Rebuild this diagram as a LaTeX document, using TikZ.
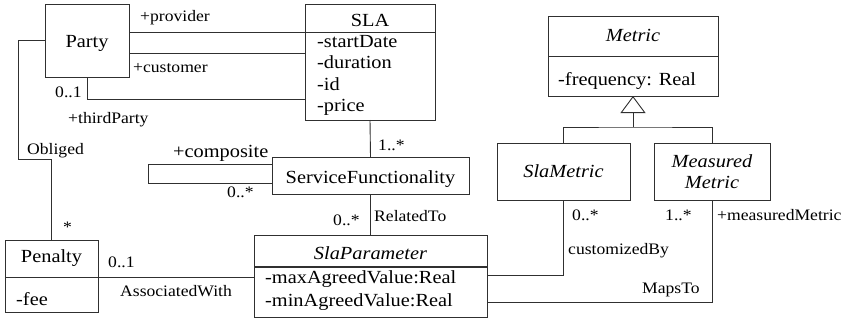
\documentclass[tikz,border=0pt]{standalone}
\usepackage{fontspec}
\setmainfont{Liberation Serif}[FakeStretch=1.1]
\usetikzlibrary{arrows.meta}
\definecolor{linec}{HTML}{303030}
\newcommand\boxfont{\fontsize{18.5}{22}\selectfont}
\newcommand\lblfont{\fontsize{16}{18}\selectfont}
\tikzset{
  cls/.style={draw=linec, line width=0.9pt, inner sep=0pt, outer sep=0pt, anchor=north west},
  wire/.style={draw=linec, line width=0.9pt},
  clsname/.style={font=\boxfont, inner sep=0pt, anchor=base},
  attr/.style={font=\boxfont, inner sep=0pt, anchor=base west},
  lbl/.style={font=\lblfont, inner sep=0pt, anchor=base west},
  gen/.style={wire, -{Triangle[open, length=17pt, width=25pt, line width=0.9pt]}}
}
\begin{document}
\begin{tikzpicture}[x=1pt, y=-1pt]
\useasboundingbox (0,0) rectangle (845,322);

% ---- classes ----
\node[cls, minimum width=84, minimum height=73] (party) at (45,4) {};
\node[clsname] (partyN) at (87,47) {Party};

\node[cls, minimum width=130, minimum height=116] (sla) at (305,4) {};
\draw[wire] (sla.west |- 0,32) -- (sla.east |- 0,32);
\node[clsname] (slaN) at (370,26) {SLA};
\node[attr] (slaA1) at (317,47) {-startDate};
\node[attr] (slaA2) at (317,68) {-duration};
\node[attr] (slaA3) at (317,90) {-id};
\node[attr] (slaA4) at (317,111) {-price};

\node[cls, minimum width=197, minimum height=37] (sf) at (272,157) {};
\node[clsname] (sfN) at (370.5,183) {ServiceFunctionality};

\node[cls, minimum width=233, minimum height=82] (slap) at (254,235) {};
\draw[draw=linec, line width=2pt] (slap.west |- 0,267) -- (slap.east |- 0,267);
\node[clsname] (slapN) at (370.5,259) {\itshape SlaParameter};
\node[attr] (slapA1) at (265,283) {-maxAgreedValue:Real};
\node[attr] (slapA2) at (265,306) {-minAgreedValue:Real};

\node[cls, minimum width=93, minimum height=72] (penalty) at (5,240) {};
\draw[wire] (penalty.west |- 0,277) -- (penalty.east |- 0,277);
\node[clsname] (penN) at (51.5,262) {Penalty};
\node[attr] (penA1) at (16,305) {-fee};

\node[cls, minimum width=170, minimum height=80] (metric) at (548,16) {};
\draw[wire] (metric.west |- 0,56) -- (metric.east |- 0,56);
\node[clsname] (metricN) at (633,41) {\itshape Metric};
\node[attr] (metricA1) at (558,85) {-frequency: Real};

\node[cls, minimum width=133, minimum height=57] (slam) at (497,143) {};
\node[clsname] (slamN) at (563.5,177) {\itshape SlaMetric};

\node[cls, minimum width=116, minimum height=57] (meas) at (654,143) {};
\node[clsname] (measN1) at (712,167) {\itshape Measured};
\node[clsname] (measN2) at (712,188) {\itshape Metric};

% ---- associations ----
\draw[wire] (party.east |- 0,32) -- (sla.west |- 0,32);
\draw[wire] (party.east |- 0,53) -- (sla.west |- 0,53);
\draw[wire] (party.south) |- (sla.west |- 0,99);
\coordinate (oblC) at (18,159);
\draw[wire] (party.west |- 0,40) -| (oblC) -| (penalty.north);
\draw[wire] (sla.south) -- (sf.north);
\coordinate (loopC) at (148,183);
\draw[wire] (sf.west |- 0,164) -| (loopC) -- (sf.west |- 0,183);
\draw[wire] (sf.south) -- (slap.north);
\draw[wire] (penalty.east |- 0,277) -- (slap.west |- 0,277);
\draw[wire] (slam.south) |- (slap.east |- 0,275);
\draw[wire] (meas.south) |- (slap.east |- 0,302);

% ---- generalization ----
\coordinate (genJ) at (633,127);
\draw[wire] (slam.north) |- (genJ) -| (meas.north);
\draw[gen] (genJ) -- (metric.south);

% ---- role names and multiplicities ----
\node[lbl] (lProv) at (140,21) {+provider};
\node[lbl] (lCust) at (133,72) {+customer};
\node[lbl] (lM1) at (55,97) {0..1};
\node[lbl] (lThird) at (68,123) {+thirdParty};
\node[lbl] (lObl) at (27,154) {Obliged};
\node[lbl] (lStar) at (63,232) {*};
\node[attr] (lComp) at (173,157) {+composite};
\node[lbl] (lM2) at (227,197) {0..*};
\node[lbl] (lM3) at (378,150) {1..*};
\node[lbl] (lRel) at (374,221) {RelatedTo};
\node[lbl] (lM4) at (333,225) {0..*};
\node[lbl] (lM5) at (108,267) {0..1};
\node[lbl] (lAssoc) at (120,296) {AssociatedWith};
\node[lbl] (lM6) at (572,220) {0..*};
\node[lbl] (lM7) at (665,220) {1..*};
\node[lbl] (lMeas) at (717,220) {+measuredMetric};
\node[lbl] (lCust2) at (568,254) {customizedBy};
\node[lbl] (lMaps) at (642,293) {MapsTo};
\end{tikzpicture}
\end{document}
